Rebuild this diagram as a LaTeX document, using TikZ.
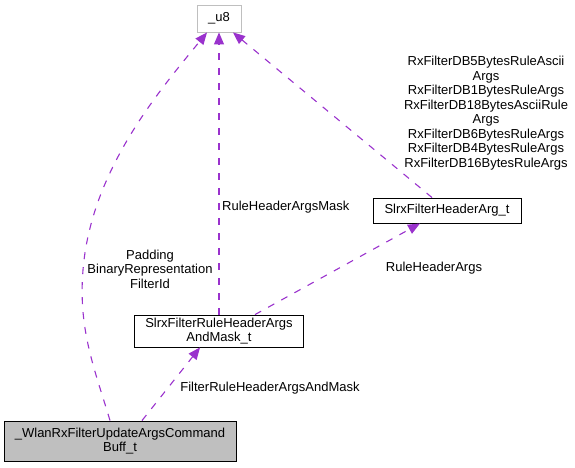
\documentclass[tikz,border=0pt]{standalone}
\usepackage{fontspec}
\setmainfont{Liberation Sans}
\usetikzlibrary{arrows.meta}
\definecolor{edgepurple}{HTML}{9A32CD}
\definecolor{boxgray}{HTML}{BFBFBF}

\begin{document}
\begin{tikzpicture}[x=1pt, y=-1pt,
  font=\fontsize{13pt}{14.5pt}\selectfont, >={Triangle[length=12pt, width=10pt]},
  cls/.style={draw, align=center, inner sep=0pt, line width=0.9pt},
  dep/.style={->, draw=edgepurple, line width=1.1pt,
              dash pattern=on 7pt off 8pt},
  lbl/.style={align=center, inner sep=0pt}]
  \useasboundingbox (0,0) rectangle (575,467);
  % classes
  \node[cls, draw=boxgray, minimum width=44pt, minimum height=27pt] (u8) at (219,18.5) {\_u8};
  \node[cls, minimum width=148pt, minimum height=25pt] (hdr) at (447,210.5) {SlrxFilterHeaderArg\_t};
  \node[cls, minimum width=169pt, minimum height=32pt] (mask) at (219,331) {SlrxFilterRuleHeaderArgs\\AndMask\_t};
  \node[cls, fill=boxgray, minimum width=232pt, minimum height=40pt] (wlan) at (120,441) {\_WlanRxFilterUpdateArgsCommand\\Buff\_t};
  % member labels
  \node[lbl] (lpad) at (150,269) {Padding\\BinaryRepresentation\\FilterId};
  \node[lbl] (lfrh) at (270,388) {FilterRuleHeaderArgsAndMask};
  \node[lbl, anchor=west] (lrhm) at (222,207) {RuleHeaderArgsMask};
  \node[lbl] (lrha) at (434,268) {RuleHeaderArgs};
  \node[lbl] (ldb) at (486,113) {RxFilterDB5BytesRuleAscii\\Args\\RxFilterDB1BytesRuleArgs\\RxFilterDB18BytesAsciiRule\\Args\\RxFilterDB6BytesRuleArgs\\RxFilterDB4BytesRuleArgs\\RxFilterDB16BytesRuleArgs};
  % usage edges
  \draw[dep] ([xshift=-10pt]wlan.north) .. controls (95,370) and (78,330) .. (83,270)
     .. controls (91,170) and (160,90) .. ([xshift=-12pt]u8.south);
  \draw[dep] ([xshift=22pt]wlan.north) -- ([xshift=-19pt]mask.south);
  \draw[dep] (mask.north) -- (u8.south);
  \draw[dep] ([xshift=36pt]mask.north) -- ([xshift=-27pt]hdr.south);
  \draw[dep] ([xshift=-15pt]hdr.north) -- ([xshift=14pt]u8.south);
\end{tikzpicture}
\end{document}
